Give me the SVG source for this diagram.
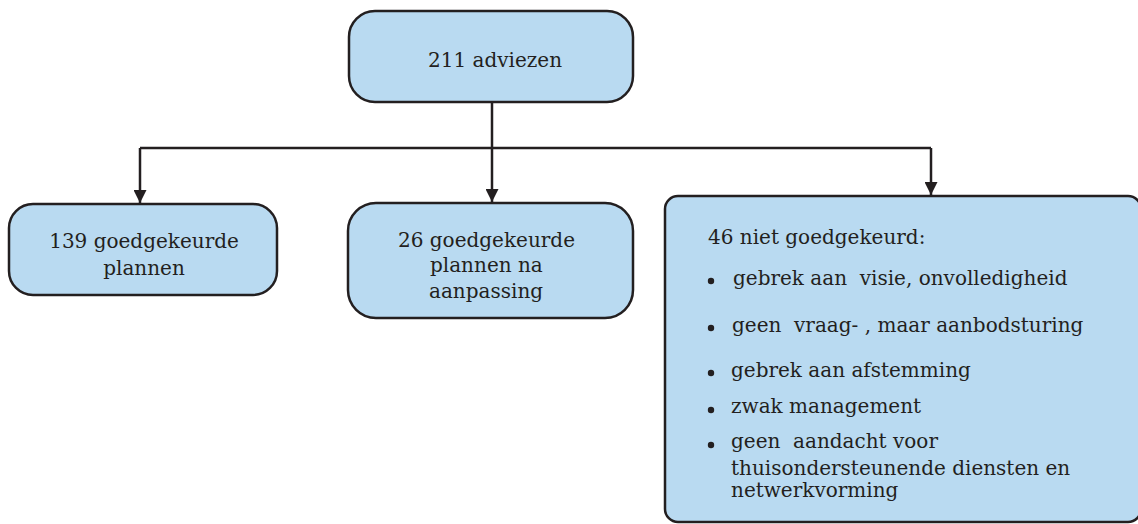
<svg xmlns="http://www.w3.org/2000/svg" width="1138" height="524" viewBox="0 0 1138 524">
  <style>
    .box { fill: #b9daf1; stroke: #231f20; stroke-width: 2.5; }
    .wire { fill: none; stroke: #231f20; stroke-width: 2.5; }
    text { font-family: "DejaVu Serif", "Liberation Serif", serif; font-size: 20px; fill: #231f20; white-space: pre; }
    .mid { text-anchor: middle; }
    .dot { fill: #231f20; }
  </style>
  <defs>
    <marker id="arrow" viewBox="0 0 13 13" markerWidth="13" markerHeight="13" refX="13" refY="6.5" orient="auto" markerUnits="userSpaceOnUse">
      <path d="M0,0 L13,6.5 L0,13 Z" fill="#231f20"/>
    </marker>
  </defs>

  <!-- connectors: trunk, branch bar and three drops -->
  <g id="connectors">
    <path class="wire" d="M492,102 V148"/>
    <path class="wire" d="M140,148 H931"/>
    <path class="wire" d="M140,148 V203" marker-end="url(#arrow)"/>
    <path class="wire" d="M492,148 V202" marker-end="url(#arrow)"/>
    <path class="wire" d="M931,148 V195" marker-end="url(#arrow)"/>
  </g>

  <g id="root">
    <rect class="box" x="349" y="11" width="284" height="91" rx="26" ry="26"/>
    <text class="mid" x="495" y="67">211 adviezen</text>
  </g>

  <g id="approved">
    <rect class="box" x="9" y="204" width="268" height="91" rx="24" ry="24"/>
    <text class="mid" x="144" y="248">139 goedgekeurde</text>
    <text class="mid" x="144" y="275">plannen</text>
  </g>

  <g id="approved-after-revision">
    <rect class="box" x="348" y="203" width="285" height="115" rx="28" ry="28"/>
    <text x="398" y="247">26 goedgekeurde</text>
    <text x="430" y="272">plannen na</text>
    <text x="429" y="298">aanpassing</text>
  </g>

  <g id="rejected">
    <rect class="box" x="665" y="196" width="476" height="326" rx="13" ry="13"/>
    <text x="708" y="244">46 niet goedgekeurd:</text>
    <circle class="dot" cx="711" cy="281" r="3.2"/>
    <text x="733" y="285">gebrek aan  visie, onvolledigheid</text>
    <circle class="dot" cx="711" cy="328" r="3.2"/>
    <text x="732" y="332">geen  vraag- , maar aanbodsturing</text>
    <circle class="dot" cx="711" cy="373" r="3.2"/>
    <text x="731" y="377">gebrek aan afstemming</text>
    <circle class="dot" cx="711" cy="410" r="3.2"/>
    <text x="731" y="413">zwak management</text>
    <circle class="dot" cx="711" cy="445" r="3.2"/>
    <text x="731" y="448">geen  aandacht voor</text>
    <text x="731" y="475">thuisondersteunende diensten en</text>
    <text x="731" y="497">netwerkvorming</text>
  </g>
</svg>
